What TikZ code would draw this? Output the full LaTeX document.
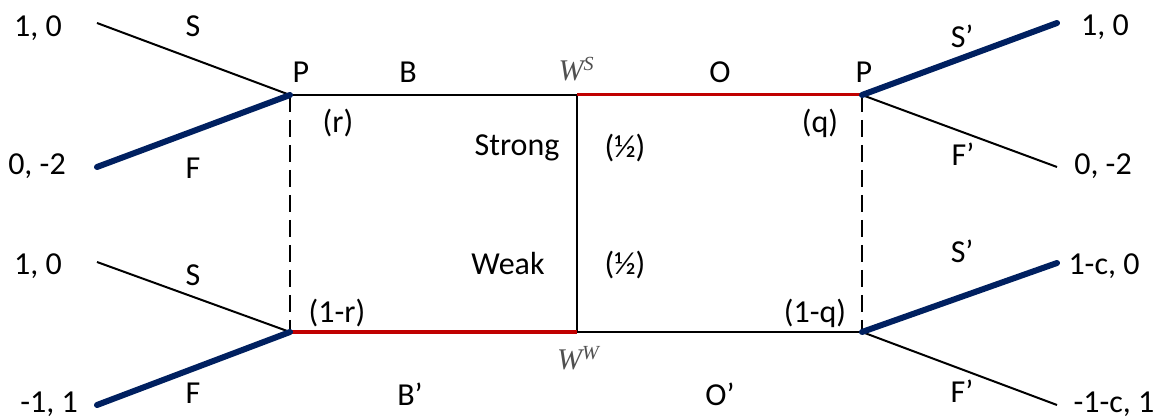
\documentclass[tikz,border=0pt]{standalone}
\usepackage{fontspec}
\setmainfont{Carlito}
\newfontfamily\wfont{Liberation Serif}
\usetikzlibrary{positioning}
\definecolor{eqblue}{HTML}{002060}
\definecolor{eqred}{HTML}{C00000}
\definecolor{wgrey}{HTML}{505050}
\newcommand{\wlabel}[1]{{\fontsize{30}{34}\wfont\itshape W}\raisebox{10pt}{\fontsize{20}{22}\wfont\itshape #1}}

\begin{document}
\begin{tikzpicture}[x=1pt, y=-1pt,
    lbl/.style={font=\fontsize{32}{38}\selectfont, inner sep=0pt,
                text height=21pt, text depth=6pt},
    wlbl/.style={text=wgrey, inner sep=0pt},
    move/.style={line width=2pt},
    eqmove/.style={line width=6pt, draw=eqblue, line cap=round},
    redmove/.style={line width=3pt, draw=eqred},
    infoset/.style={line width=2pt, dash pattern=on 17pt off 8pt}]
  \useasboundingbox (0,0) rectangle (1161,419);

  % decision points
  \coordinate (PL1) at (290,95);
  \coordinate (PL2) at (290,332);
  \coordinate (WS) at (577,95);
  \coordinate (WW) at (577,332);
  \coordinate (PR1) at (862,95);
  \coordinate (PR2) at (862,332);

  % branch ends
  \coordinate (eL1) at (97,23);
  \coordinate (eL2) at (97,167);
  \coordinate (eL3) at (97,262);
  \coordinate (eL4) at (97,405);
  \coordinate (eR1) at (1057,23);
  \coordinate (eR2) at (1057,167);
  \coordinate (eR3) at (1057,263);
  \coordinate (eR4) at (1057,405);

  % payoffs
  \node[lbl] (pL1) at (38,29) {1, 0};
  \node[lbl] (pL2) at (37,167) {0, -2};
  \node[lbl] (pL3) at (38,267) {1, 0};
  \node[lbl] (pL4) at (49,405) {-1, 1};
  \node[lbl] (pR1) at (1105,28) {1, 0};
  \node[lbl] (pR2) at (1103,167) {0, -2};
  \node[lbl] (pR3) at (1104,267) {1-c, 0};
  \node[lbl] (pR4) at (1114,405) {-1-c, 1};

  % game tree
  \draw[move] (PL1) -- (WS);
  \draw[move] (WW) -- (PR2);
  \draw[move] (WS) -- (WW);
  \draw[infoset] (PL1) -- (PL2);
  \draw[infoset] (PR1) -- (PR2);
  \draw[redmove] (WS) -- (PR1);
  \draw[redmove] (PL2) -- (WW);
  \draw[move] (PL1) -- (eL1);
  \draw[move] (PL2) -- (eL3);
  \draw[move] (PR1) -- (eR2);
  \draw[move] (PR2) -- (eR4);
  \draw[eqmove] (PL1) -- (eL2);
  \draw[eqmove] (PL2) -- (eL4);
  \draw[eqmove] (PR1) -- (eR1);
  \draw[eqmove] (PR2) -- (eR3);

  % action labels
  \node[lbl] (sL1) at (193,29) {S};
  \node[lbl] (fL1) at (193,171) {F};
  \node[lbl] (sL2) at (193,278) {S};
  \node[lbl] (fL2) at (193,396) {F};
  \node[lbl] (sR1) at (962,40) {S’};
  \node[lbl] (fR1) at (963,158) {F’};
  \node[lbl] (sR2) at (962,255) {S’};
  \node[lbl] (fR2) at (962,395) {F’};
  \node[lbl] (pPL) at (301,75) {P};
  \node[lbl] (pPR) at (864,75) {P};
  \node[lbl] (bTop) at (408,75) {B};
  \node[lbl] (oTop) at (720,75) {O};
  \node[lbl] (bBot) at (410,398) {B’};
  \node[lbl] (oBot) at (720,398) {O’};
  \node[wlbl] (wS) at (576,69) {\wlabel{S}};
  \node[wlbl] (wW) at (578,358) {\wlabel{W}};

  % beliefs and types
  \node[lbl] (r) at (338,125) {(r)};
  \node[lbl] (rr) at (337,315) {(1-r)};
  \node[lbl] (q) at (820,125) {(q)};
  \node[lbl] (qq) at (815,315) {(1-q)};
  \node[lbl] (strong) at (517,148) {Strong};
  \node[lbl] (weak) at (508,267) {Weak};
  \node[lbl] (halfS) at (625,150) {(½)};
  \node[lbl] (halfW) at (625,267) {(½)};
\end{tikzpicture}
\end{document}
